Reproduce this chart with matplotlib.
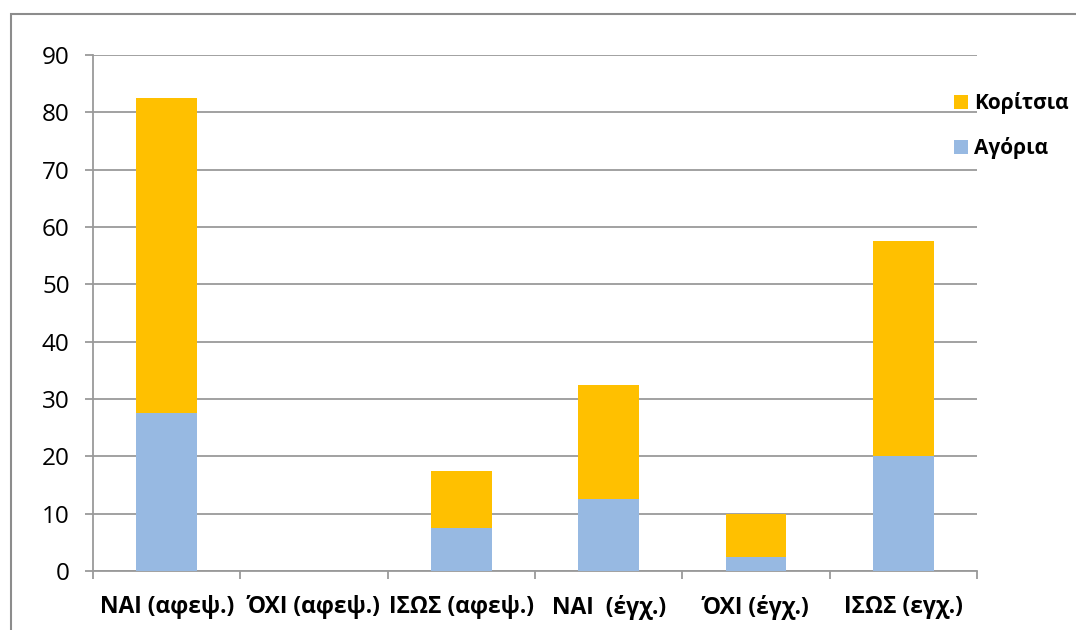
import matplotlib
matplotlib.use("Agg")
import matplotlib.pyplot as plt
import numpy as np
from matplotlib.patches import Rectangle

plt.rcParams['font.family'] = ['Open Sans', 'DejaVu Sans']

categories = ["ΝΑΙ (αφεψ.)", "ΌΧΙ (αφεψ.)", "ΙΣΩΣ (αφεψ.)", "ΝΑΙ  (έγχ.)", "ΌΧΙ (έγχ.)", "ΙΣΩΣ (εγχ.)"]
boys = [27.5, 0, 7.5, 12.5, 2.5, 20]
girls = [55, 0, 10, 20, 7.5, 37.5]
series_names = ["Αγόρια", "Κορίτσια"]
yticks = [0, 10, 20, 30, 40, 50, 60, 70, 80, 90]

BOY_COLOR = "#97b9e2"
GIRL_COLOR = "#ffc000"
GRID = "#9a9a9a"

fig = plt.figure(figsize=(10.76, 6.30), dpi=100)
ax = fig.add_axes([93 / 1076, 1 - 571 / 630, (977 - 93) / 1076, (571 - 55) / 630])

x = np.arange(len(categories))
w = 0.41
b1 = ax.bar(x, boys, w, color=BOY_COLOR, label=series_names[0], zorder=3)
b2 = ax.bar(x, girls, w, bottom=boys, color=GIRL_COLOR, label=series_names[1], zorder=3)

ax.set_xlim(-0.5, len(categories) - 0.5)
ax.set_ylim(0, 90)
ax.set_yticks(yticks)
ax.set_yticklabels([str(v) for v in yticks], fontsize=17.5)
ax.yaxis.grid(True, color=GRID, linewidth=1.3, zorder=0)
ax.set_axisbelow(True)

for side in ("top", "right"):
    ax.spines[side].set_visible(False)
for side in ("left", "bottom"):
    ax.spines[side].set_color(GRID)
    ax.spines[side].set_linewidth(1.3)

ax.tick_params(axis="y", length=5.8, width=1.3, color=GRID, pad=11)
# category labels centred, boundary ticks as minor ticks
ax.set_xticks(x)
ax.set_xticklabels(categories, fontsize=16.5, fontweight="bold")
ax.tick_params(axis="x", which="major", length=0, pad=17)
ax.set_xticks(np.arange(-0.5, len(categories), 1.0), minor=True)
ax.tick_params(axis="x", which="minor", length=5.8, width=1.3, color=GRID, direction="out")

leg = fig.legend(handles=[b2, b1], labels=[series_names[1], series_names[0]],
                 loc="upper left", bbox_to_anchor=(946 / 1076, 1 - 84 / 630),
                 frameon=False, prop={"weight": "bold", "size": 15},
                 handlelength=0.65, handleheight=0.65, handletextpad=0.3,
                 labelspacing=1.1, borderaxespad=0)

# outer chart-area border
fig.patches.append(Rectangle((11 / 1076, -0.1), 1.2, 1 - 14 / 630 + 0.1,
                             transform=fig.transFigure, fill=False,
                             edgecolor="#8c8c8c", linewidth=1.5))

fig.savefig("out.png", dpi=100)
